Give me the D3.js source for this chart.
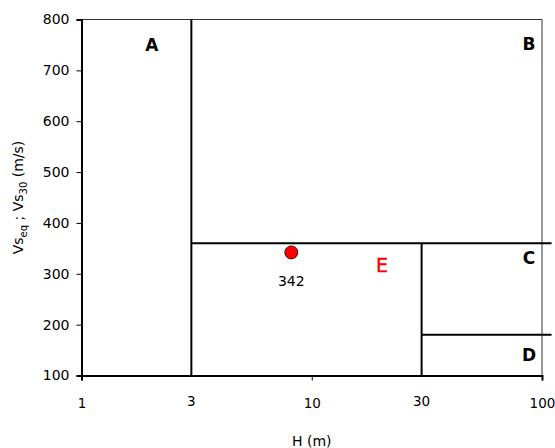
<!DOCTYPE html>
<html>
<head>
<meta charset="utf-8">
<script src="https://cdn.jsdelivr.net/npm/d3@7/dist/d3.min.js"></script>
<style>
body { margin: 0; background: #fff; }
text { font-family: "DejaVu Sans", Verdana, sans-serif; }
</style>
</head>
<body>
<svg id="chart" width="555" height="448"></svg>
<script>
// zone boundaries [x1, y1, x2, y2] in data units
var boundaries = [
	[3, 100, 3, 800],
	[3, 360, 110, 360],
	[30, 100, 30, 360],
	[30, 180, 110, 180]
];
var zoneNames = ["A", "B", "C", "D"];
var zoneX = [2.02, 87.8, 87.8, 87.8];
var zoneY = [750, 752, 332, 140];
var siteH = [8.15];
var siteVs = [342];
var yTicks = [100, 200, 300, 400, 500, 600, 700, 800];
var xTicks = [1, 10, 100];
var xNotes = [3, 30];

var svg = d3.select("#chart");
var pLeft = 81.5, pRight = 542, pTop = 19.5, pBottom = 375.5;

var x = d3.scaleLog().domain([1, 100]).range([pLeft, pRight]);
var y = d3.scaleLinear().domain([100, 800]).range([pBottom, pTop]);

// thin frame top/right
svg.append("path")
	.attr("d", "M" + pLeft + "," + pTop + "H" + pRight + "V" + pBottom)
	.attr("fill", "none").attr("stroke", "#333").attr("stroke-width", 1);

// y axis
var yAxis = svg.append("g").attr("transform", "translate(" + pLeft + ",0)")
	.call(d3.axisLeft(y).tickValues(yTicks).tickSize(5).tickPadding(7));
yAxis.select(".domain").attr("stroke", "#000").attr("stroke-width", 2);
yAxis.selectAll(".tick line").attr("stroke", "#000");
yAxis.selectAll("text").attr("font-size", 14).attr("fill", "#000");

// x axis
var xAxis = svg.append("g").attr("transform", "translate(0," + pBottom + ")")
	.call(d3.axisBottom(x).tickValues(xTicks).tickFormat(d3.format("d")).tickSize(5).tickPadding(18));
xAxis.select(".domain").attr("stroke", "#000").attr("stroke-width", 2);
xAxis.selectAll(".tick line").attr("stroke", "#000");
xAxis.selectAll("text").attr("font-size", 13.5).attr("fill", "#000");

svg.selectAll(".xnote").data(xNotes).enter().append("text")
	.attr("x", function(d) { return x(d); })
	.attr("y", pBottom + 30)
	.attr("text-anchor", "middle")
	.attr("font-size", 13.5)
	.text(function(d) { return d; });

// boundaries
svg.selectAll(".bound").data(boundaries).enter().append("line")
	.attr("x1", function(d) { return x(d[0]); })
	.attr("y1", function(d) { return y(d[1]); })
	.attr("x2", function(d) { return x(d[2]); })
	.attr("y2", function(d) { return y(d[3]); })
	.attr("stroke", "#000").attr("stroke-width", 2);

// zone letters
svg.selectAll(".zone").data(zoneNames).enter().append("text")
	.attr("x", function(d, i) { return x(zoneX[i]); })
	.attr("y", function(d, i) { return y(zoneY[i]); })
	.attr("text-anchor", "middle")
	.attr("dominant-baseline", "central")
	.attr("font-size", 17).attr("font-weight", "bold")
	.text(function(d) { return d; });

svg.append("text")
	.attr("x", x(20.2)).attr("y", y(317))
	.attr("text-anchor", "middle").attr("dominant-baseline", "central")
	.attr("font-size", 19).attr("fill", "#f00")
	.attr("stroke", "#f00").attr("stroke-width", 0.4)
	.text("E");

// site point
svg.selectAll(".site").data(siteVs).enter().append("circle")
	.attr("cx", function(d, i) { return x(siteH[i]); })
	.attr("cy", function(d) { return y(d); })
	.attr("r", 6.5)
	.attr("fill", "#f00").attr("stroke", "#000").attr("stroke-width", 0.8);

svg.selectAll(".siteLabel").data(siteVs).enter().append("text")
	.attr("x", function(d, i) { return x(siteH[i]); })
	.attr("y", function(d) { return y(d) + 34; })
	.attr("text-anchor", "middle")
	.attr("font-size", 14)
	.text(function(d) { return d; });

// axis titles
svg.append("text")
	.attr("x", (pLeft + pRight) / 2).attr("y", 446)
	.attr("text-anchor", "middle").attr("font-size", 14)
	.text("H (m)");

var yt = svg.append("text")
	.attr("transform", "translate(23," + ((pTop + pBottom) / 2) + ") rotate(-90)")
	.attr("text-anchor", "middle").attr("font-size", 14);
yt.append("tspan").text("Vs");
yt.append("tspan").attr("font-size", 10).attr("dy", 4).text("eq");
yt.append("tspan").attr("dy", -4).text(" ; Vs");
yt.append("tspan").attr("font-size", 10).attr("dy", 4).text("30");
yt.append("tspan").attr("dy", -4).text(" (m/s)");
</script>
</body>
</html>
